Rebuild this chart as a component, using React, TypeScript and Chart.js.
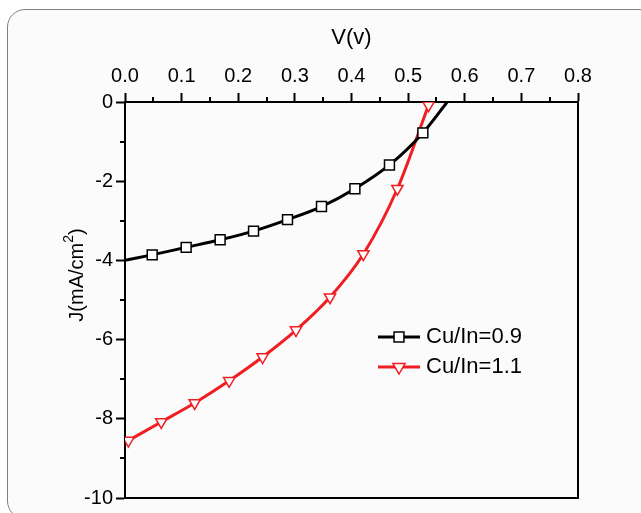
import React, { useEffect, useRef } from 'react';
import { Chart, registerables } from 'chart.js';
import { drawPoint } from 'chart.js/helpers';

Chart.register(...registerables);

// ---- data ----
const seriesLabels = ['Cu/In=0.9', 'Cu/In=1.1'];
const v09 = [0, 0.048, 0.108, 0.168, 0.227, 0.287, 0.347, 0.406, 0.467, 0.526, 0.569];
const j09 = [-4.0, -3.86, -3.67, -3.48, -3.26, -2.97, -2.64, -2.19, -1.59, -0.78, 0];
const marker09 = [false, true, true, true, true, true, true, true, true, true, false];
const v11 = [0.006, 0.064, 0.123, 0.184, 0.243, 0.302, 0.362, 0.421, 0.481, 0.536];
const j11 = [-8.55, -8.08, -7.6, -7.04, -6.44, -5.76, -4.93, -3.84, -2.19, -0.08];

const xMin = 0;
const xMax = 0.8;
const xStep = 0.1;
const yMin = -10;
const yMax = 0;
const yStep = 2;
const xTitle = 'V(v)';
const yTitleMain = 'J(mA/cm';
const yTitleSup = '2';
const yTitleEnd = ')';

const FONT = "'Liberation Sans', Arial, sans-serif";
const RED = '#f01e23';

const frameAndMinor = {
  id: 'frameAndMinor',
  afterDraw(chart: any) {
    const { ctx, chartArea, scales } = chart;
    const x = scales.x;
    const y = scales.y;
    ctx.save();
    ctx.strokeStyle = '#000';
    ctx.lineWidth = 2;
    ctx.beginPath();
    ctx.moveTo(chartArea.right, chartArea.top);
    ctx.lineTo(chartArea.right, chartArea.bottom);
    ctx.lineTo(chartArea.left - 1, chartArea.bottom);
    ctx.stroke();
    // minor ticks
    ctx.beginPath();
    const nx = Math.round((xMax - xMin) / xStep);
    for (let i = 0; i < nx; i++) {
      const px = Math.round(x.getPixelForValue(xMin + (i + 0.5) * xStep));
      ctx.moveTo(px, chartArea.top);
      ctx.lineTo(px, chartArea.top - 5);
    }
    const ny = Math.round((yMax - yMin) / yStep);
    for (let i = 0; i < ny; i++) {
      const py = Math.round(y.getPixelForValue(yMin + (i + 0.5) * yStep));
      ctx.moveTo(chartArea.left, py);
      ctx.lineTo(chartArea.left - 5, py);
    }
    ctx.stroke();

    // y title with superscript
    ctx.save();
    ctx.translate(y.left + 13, chartArea.top + 173);
    ctx.rotate(-Math.PI / 2);
    ctx.fillStyle = '#000';
    ctx.textBaseline = 'middle';
    ctx.textAlign = 'left';
    ctx.font = `20px ${FONT}`;
    const wMain = ctx.measureText(yTitleMain).width;
    const wEnd = ctx.measureText(yTitleEnd).width;
    ctx.font = `14px ${FONT}`;
    const wSup = ctx.measureText(yTitleSup).width;
    const total = wMain + wSup + wEnd;
    let cx = -total / 2;
    ctx.font = `20px ${FONT}`;
    ctx.fillText(yTitleMain, cx, 0);
    cx += wMain;
    ctx.font = `14px ${FONT}`;
    ctx.fillText(yTitleSup, cx, -8);
    cx += wSup;
    ctx.font = `20px ${FONT}`;
    ctx.fillText(yTitleEnd, cx, 0);
    ctx.restore();

    // legend
    chart.data.datasets.forEach((ds: any, i: number) => {
      const ly = chartArea.top + 235 + i * 30;
      const x0 = chartArea.left + 253;
      const x1 = x0 + 42;
      ctx.strokeStyle = ds.borderColor;
      ctx.lineWidth = 3;
      ctx.beginPath();
      ctx.moveTo(x0, ly);
      ctx.lineTo(x1, ly);
      ctx.stroke();
      ctx.fillStyle = '#fff';
      ctx.strokeStyle = ds.pointBorderColor;
      ctx.lineWidth = ds.pointBorderWidth;
      drawPoint(ctx, { pointStyle: ds.pointStyle, rotation: ds.pointRotation, radius: 7, borderWidth: ds.pointBorderWidth }, (x0 + x1) / 2, ly);
      ctx.fillStyle = '#000';
      ctx.font = `22px ${FONT}`;
      ctx.textBaseline = 'middle';
      ctx.textAlign = 'left';
      ctx.fillText(ds.label, x1 + 6, ly);
    });
    ctx.restore();
  },
};

export default function App() {
  const ref = useRef<HTMLCanvasElement>(null);
  useEffect(() => {
    if (!ref.current) return;
    const chart = new Chart(ref.current, {
      type: 'scatter',
      data: {
        datasets: [
          {
            label: seriesLabels[0],
            data: v09.map((v, i) => ({ x: v, y: j09[i] })),
            showLine: true,
            borderColor: '#000',
            borderWidth: 3,
            cubicInterpolationMode: 'monotone',
            pointStyle: 'rect',
            pointRotation: 0,
            pointRadius: marker09.map((m) => (m ? 7 : 0)),
            pointBackgroundColor: '#fff',
            pointBorderColor: '#000',
            pointBorderWidth: 1.5,
          } as any,
          {
            label: seriesLabels[1],
            data: v11.map((v, i) => ({ x: v, y: j11[i] })),
            showLine: true,
            borderColor: RED,
            borderWidth: 3,
            cubicInterpolationMode: 'monotone',
            pointStyle: 'triangle',
            pointRotation: 180,
            pointRadius: 6.5,
            pointBackgroundColor: '#fff',
            pointBorderColor: RED,
            pointBorderWidth: 1.5,
          } as any,
        ],
      },
      options: {
        animation: false,
        responsive: false,
        maintainAspectRatio: false,
        layout: { padding: { left: 64, top: 21, right: 63, bottom: 12 } },
        plugins: { legend: { display: false }, tooltip: { enabled: false } },
        scales: {
          x: {
            type: 'linear',
            position: 'top',
            min: xMin,
            max: xMax,
            afterFit: (s: any) => {
              s.height = 81;
            },
            ticks: {
              stepSize: xStep,
              callback: (v: any) => Number(v).toFixed(1),
              font: { family: FONT, size: 20 },
              color: '#000',
              padding: 5,
              maxRotation: 0,
            },
            grid: { drawOnChartArea: false, tickLength: 9, tickWidth: 2, color: '#000' },
            border: { width: 2, color: '#000' },
            title: { display: true, text: xTitle, font: { family: FONT, size: 22 }, color: '#000' },
          },
          y: {
            type: 'linear',
            min: yMin,
            max: yMax,
            afterFit: (s: any) => {
              s.width = 61;
            },
            ticks: {
              stepSize: yStep,
              callback: (v: any) => String(Math.round(Number(v))),
              font: { family: FONT, size: 20 },
              color: '#000',
              padding: 3,
            },
            grid: { drawOnChartArea: false, tickLength: 9, tickWidth: 2, color: '#000' },
            border: { width: 2, color: '#000' },
            title: { display: false },
          },
        },
      } as any,
      plugins: [frameAndMinor],
    });
    return () => chart.destroy();
  }, []);

  return (
    <div style={{ position: 'fixed', left: 0, top: 0, width: 641, height: 513, overflow: 'hidden', background: '#fff' }}>
      <div
        style={{
          position: 'absolute',
          left: 7,
          top: 9,
          width: 650,
          height: 510,
          border: '1.5px solid #808080',
          borderRadius: 18,
          background: '#fbfbfb',
          boxSizing: 'border-box',
        }}
      />
      <canvas ref={ref} width={641} height={513} style={{ position: 'absolute', left: 0, top: 0, width: 641, height: 513 }} />
    </div>
  );
}
